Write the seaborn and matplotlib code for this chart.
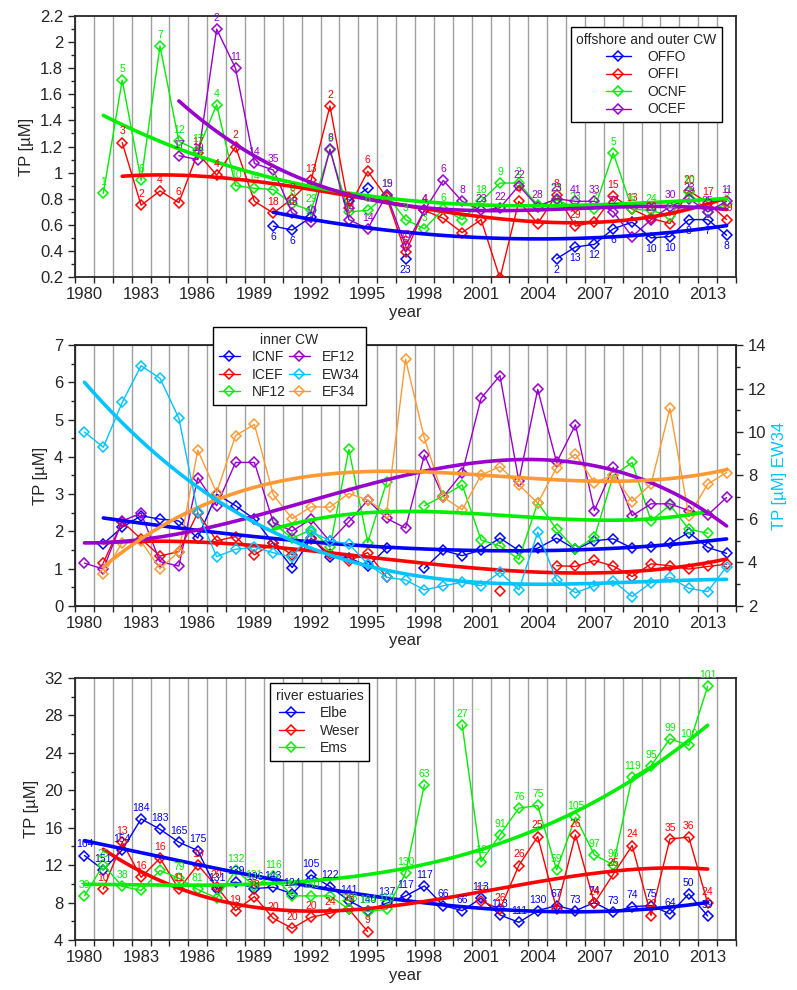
import numpy as np
import pandas as pd
import seaborn as sns
import matplotlib.pyplot as plt
from matplotlib.lines import Line2D
from matplotlib.ticker import MultipleLocator, FormatStrFormatter

sns.set_style("ticks")
plt.rcParams['font.family'] = ['Liberation Sans', 'DejaVu Sans']

nan = np.nan

# === Top panel: offshore and outer CW, 1980-2014 ===
years_a = list(range(1980, 2015))
offo = [nan] * 10 + [0.59, 0.56, 0.66, nan, 0.78, 0.88, nan, 0.34] + [nan] * 7 + \
       [0.34, 0.43, 0.45, 0.57, 0.62, 0.50, 0.51, 0.64, 0.64, 0.52]
offi = [nan, nan, 1.23, 0.75, 0.86, 0.77, 1.15, 0.98, 1.20, 0.78,
        0.69, 0.80, 0.94, 1.51, 0.73, 1.01, 0.81, 0.39, 0.71, 0.65,
        0.54, 0.64, 0.19, 0.78, 0.61, 0.83, 0.59, 0.62, 0.82, 0.72,
        0.65, 0.61, 0.86, 0.77, 0.64]
ocnf = [nan, 0.84, 1.71, 0.94, 1.97, 1.24, 1.17, 1.52, 0.90, 0.88,
        0.87, 0.76, 0.71, 1.17, 0.70, 0.71, 0.83, 0.64, 0.57, 0.72,
        0.64, 0.78, 0.92, 0.92, 0.75, 0.79, 0.73, 0.72, 1.15, 0.72,
        0.71, 0.67, 0.85, 0.70, 0.76]
ocef = [nan] * 5 + [1.13, 1.10, 2.10, 1.80, 1.07,
                    1.02, 0.69, 0.62, 1.18, 0.64, 0.57, 0.83, 0.44, 0.71, 0.94,
                    0.78, 0.71, 0.73, 0.90, 0.74, 0.80, 0.78, 0.78, 0.70, 0.51,
                    0.64, 0.74, 0.80, 0.70, 0.78]

n_offo = [''] * 10 + ['6', '6', '', '', '', '', '', '23'] + [''] * 7 + \
         ['2', '13', '12', '6', '', '10', '10', '8', '7', '8']
n_offi = ['', '', '3', '2', '4', '6', '17', '4', '2', '',
          '18', '8', '13', '2', '2', '6', '', '5', '4', '',
          '', '', '2', '4', '', '8', '29', '', '15', '13',
          '26', '', '20', '17', '19']
n_ocnf = ['', '1', '5', '6', '7', '12', '17', '4', '10', '14',
          '2', '8', '29', '9', '', '6', '15', '3', '3', '6',
          '', '18', '9', '2', '', '23', '23', '7', '5', '6',
          '24', '12', '10', '', '9']
n_ocef = [''] * 5 + ['17', '19', '2', '11', '14',
                     '35', '15', '10', '8', '14', '14', '19', '10', '4', '6',
                     '8', '23', '22', '22', '28', '23', '41', '33', '22', '',
                     '26', '30', '23', '25', '11']

# === Middle panel: inner CW, 1980-2014 (EW34 on right axis) ===
icnf = [nan, 1.67, 2.11, 2.42, 2.33, 2.28, 1.82, 3.00, 2.69, 2.33,
        1.68, 1.03, 1.82, 1.32, 1.30, 1.06, 1.55, nan, 1.01, 1.49,
        1.35, 1.50, 1.82, 1.49, 1.55, 1.82, 1.52, 1.75, 1.80, 1.55,
        1.59, 1.68, 1.97, 1.57, 1.41]
icef = [nan, 1.16, 2.26, 1.80, 1.34, 1.46, 2.50, 1.75, 1.86, 1.37,
        1.70, 1.37, 1.80, 1.40, 1.21, 1.43, 0.77, nan, nan, nan,
        nan, nan, 0.41, nan, nan, 1.08, 1.06, 1.22, 1.07, 0.79,
        1.13, 1.08, 0.99, 1.06, 1.12]
nf12 = [nan] * 10 + [2.22, 1.82, 2.04, 1.58, 4.20, 1.70, 3.32, nan, 2.69, 2.95,
                     3.25, 1.77, 1.61, 1.25, 2.77, 2.06, 1.52, 1.84, 3.50, 3.85,
                     2.28, 2.71, 2.06, 1.95, nan]
ef12 = [1.15, 0.99, 2.28, 2.49, 1.19, 1.07, 3.44, 2.69, 3.85, 3.85,
        2.24, 2.01, 2.33, 1.73, 2.26, 2.84, 2.35, 2.09, 4.05, 2.93,
        3.56, 5.57, 6.18, 3.35, 5.81, 3.85, 4.86, 2.56, 3.72, 2.42,
        2.74, 2.74, 2.56, 2.44, 2.91]
ew34 = [10.0, 9.30, 11.36, 13.05, 12.47, 10.63, 6.31, 4.27, 4.61, 4.70,
        4.45, 4.24, 5.42, 5.00, 4.85, 3.93, 3.32, 3.20, 2.74, 2.93,
        3.09, 2.93, 3.55, 2.74, 5.39, 3.20, 2.61, 2.93, 3.16, 2.43,
        3.07, 3.32, 2.81, 2.66, 3.81]
ef34 = [nan, 0.85, 1.70, 1.73, 1.00, 1.46, 4.18, 3.04, 4.57, 4.87,
        2.98, 2.34, 2.66, 2.65, 3.02, 2.84, 2.49, 6.62, 4.50, 2.92,
        2.58, 3.51, 3.74, 3.25, 2.76, 3.71, 4.07, 3.31, 3.51, 2.80,
        3.27, 5.30, 2.42, 3.27, 3.58]

# === Bottom panel: river estuaries, 1980-2013 ===
years_c = list(range(1980, 2014))
elbe = [13.03, 11.5, 13.63, 16.95, 15.84, 14.45, 13.56, 9.43, 10.2, 9.5,
        9.64, 8.95, 10.96, 9.71, 8.21, 7.14, 7.93, 8.71, 9.78, 7.68,
        7.14, 8.46, 6.68, 5.89, 7.14, 7.68, 7.14, 8.0, 6.96, 7.57,
        7.68, 6.79, 8.93, 6.57]
weser = [nan, 9.45, 14.45, 10.7, 12.74, 9.45, 12.03, 9.71, 7.14, 8.64,
         6.32, 5.25, 6.43, 6.86, 7.29, 4.90, nan, nan, nan, nan,
         nan, 8.18, 7.29, 11.96, 15.06, 7.29, 15.24, 7.93, 11.03, 14.1,
         6.61, 14.81, 14.99, 7.93]
ems = [8.71, 12.03, 9.73, 9.30, 11.44, 10.6, 9.4, 8.49, 11.44, 9.8,
       10.87, 8.72, 8.71, 8.71, 7.29, 7.04, 7.29, 11.14, 20.59, nan,
       27.0, 12.39, 15.24, 18.09, 18.38, 11.5, 17.13, 13.10, 12.03, 21.41,
       22.62, 25.51, 24.8, 31.11]

n_elbe = ['164', '151', '154', '184', '183', '165', '175', '131', '139', '136',
          '143', '124', '105', '122', '141', '140', '137', '117', '117', '66',
          '66', '113', '113', '111', '130', '67', '73', '74', '73', '74',
          '75', '64', '50', '59']
n_weser = ['', '10', '13', '16', '16', '11', '19', '20', '19', '18',
           '20', '20', '20', '24', '18', '9', '', '', '', '',
           '', '17', '26', '26', '25', '', '26', '24', '25', '24',
           '22', '35', '36', '24']
n_ems = ['39', '25', '38', '', '', '79', '81', '', '132', '131',
         '116', '14', '150', '', '138', '164', '119', '130', '63', '',
         '27', '12', '91', '76', '75', '59', '105', '97', '96', '119',
         '95', '99', '100', '101']

BLUE, RED, GREEN = '#0000ff', '#ff0000', '#00ee00'
PURPLE, CYAN, ORANGE = '#9900cc', '#00c4ff', '#ff9933'


def draw_series(ax, years, vals, color, labels=None, below=False):
    df = pd.DataFrame({"year": years, "tp": vals})
    df["seg"] = df["tp"].isna().cumsum()
    df = df.dropna()
    sns.lineplot(data=df, x="year", y="tp", units="seg", estimator=None,
                 color=color, lw=1, marker="D", markersize=5.5,
                 markerfacecolor="none", markeredgecolor=color,
                 markeredgewidth=1.1, legend=False, ax=ax, zorder=3)
    if labels:
        for x, v, t in zip(years, vals, labels):
            if t and not np.isnan(v):
                ax.annotate(t, (x, v), xytext=(0, -8 if below else 8),
                            textcoords="offset points", ha="center", va="center",
                            fontsize=7.5, color=color, zorder=5)


def draw_trend(ax, years, vals, color, deg=3):
    x = np.array(years, float)
    y = np.array(vals, float)
    m = ~np.isnan(y)
    coef = np.polyfit(x[m] - 1997, y[m], deg)
    xs = np.linspace(x[m].min(), x[m].max(), 150)
    sns.lineplot(x=xs, y=np.polyval(coef, xs - 1997), color=color, lw=2.6,
                 ax=ax, zorder=4)


def setup_axes(ax, ylim, major, minor):
    ax.set_xlim(1979.5, 2014.5)
    ax.set_ylim(*ylim)
    ax.set_xticks(range(1980, 2014, 3))
    ax.set_xticks(np.arange(1979.5, 2015, 1), minor=True)
    ax.tick_params(axis='x', which='major', length=0, labelsize=12, pad=7)
    ax.tick_params(axis='x', which='minor', length=4, width=1)
    ax.grid(True, axis='x', which='minor', color='#a0a0a0', lw=1)
    ax.set_axisbelow(True)
    ax.yaxis.set_major_locator(MultipleLocator(major))
    ax.yaxis.set_minor_locator(MultipleLocator(minor))
    ax.yaxis.set_major_formatter(FormatStrFormatter('%g'))
    ax.tick_params(axis='y', which='major', length=5, width=1, labelsize=12)
    ax.tick_params(axis='y', which='minor', length=3, width=1)
    for s in ax.spines.values():
        s.set_linewidth(1.3)
    ax.set_xlabel('year', fontsize=12, labelpad=2)
    ax.set_ylabel('TP [µM]', fontsize=12)


def handle(c):
    return Line2D([], [], color=c, lw=1, marker='D', markersize=5.5,
                  markerfacecolor='none', markeredgecolor=c, markeredgewidth=1.1)


leg_kw = dict(fontsize=10, title_fontsize=10, frameon=True, fancybox=False,
              edgecolor='black', framealpha=1, borderaxespad=0,
              labelspacing=0.25, borderpad=0.4)

fig = plt.figure(figsize=(7.97, 9.90), dpi=100)

# --- top ---
ax1 = fig.add_axes([0.0941, 0.7202, 0.8294, 0.2636])
setup_axes(ax1, (0.2, 2.2), 0.2, 0.1)
for vals, c, lab, below in [(offo, BLUE, n_offo, True), (offi, RED, n_offi, False),
                            (ocnf, GREEN, n_ocnf, False), (ocef, PURPLE, n_ocef, False)]:
    draw_series(ax1, years_a, vals, c, lab, below)
draw_trend(ax1, years_a, offo, BLUE, 2)
draw_trend(ax1, years_a, offi, RED, 3)
draw_trend(ax1, years_a, ocnf, GREEN, 3)
draw_trend(ax1, years_a, ocef, PURPLE, 3)
lg = ax1.legend([handle(c) for c in (BLUE, RED, GREEN, PURPLE)],
                ['OFFO', 'OFFI', 'OCNF', 'OCEF'], title='offshore and outer CW',
                loc='upper left', bbox_to_anchor=(0.75, 0.958),
                handlelength=1.8, handletextpad=1.2, **leg_kw)
lg.get_frame().set_linewidth(1)

# --- middle ---
ax2 = fig.add_axes([0.0941, 0.3879, 0.8294, 0.2636])
setup_axes(ax2, (0, 7), 1, 0.5)
for vals, c in [(icnf, BLUE), (icef, RED), (nf12, GREEN), (ef12, PURPLE), (ef34, ORANGE)]:
    draw_series(ax2, years_a, vals, c)
    draw_trend(ax2, years_a, vals, c, 3)
ax2r = ax2.twinx()
ax2r.set_ylim(2, 14)
ax2r.yaxis.set_major_locator(MultipleLocator(2))
ax2r.yaxis.set_minor_locator(MultipleLocator(1))
ax2r.tick_params(axis='y', which='major', length=5, width=1, labelsize=12)
ax2r.tick_params(axis='y', which='minor', length=3, width=1)
draw_series(ax2r, years_a, ew34, CYAN)
draw_trend(ax2r, years_a, ew34, CYAN, 3)
ax2r.set_ylabel('TP [µM] EW34', fontsize=12, color=CYAN)
ax2r.set_xlim(1979.5, 2014.5)
lg = ax2r.legend([handle(c) for c in (BLUE, RED, GREEN, PURPLE, CYAN, ORANGE)],
                 ['ICNF', 'ICEF', 'NF12', 'EF12', 'EW34', 'EF34'], title='inner CW',
                 ncol=2, columnspacing=0.2, loc='upper left',
                 bbox_to_anchor=(0.209, 1.069),
                 handlelength=1.5, handletextpad=0.9, **leg_kw)
lg.get_frame().set_linewidth(1)

# --- bottom ---
ax3 = fig.add_axes([0.0941, 0.0505, 0.8294, 0.2646])
setup_axes(ax3, (4, 32), 4, 2)
for vals, c, lab in [(elbe, BLUE, n_elbe), (weser, RED, n_weser), (ems, GREEN, n_ems)]:
    draw_series(ax3, years_c, vals, c, lab)
draw_trend(ax3, years_c, elbe, BLUE, 3)
draw_trend(ax3, years_c, weser, RED, 3)
draw_trend(ax3, years_c, ems, GREEN, 3)
lg = ax3.legend([handle(c) for c in (BLUE, RED, GREEN)], ['Elbe', 'Weser', 'Ems'],
                title='river estuaries', loc='upper left',
                bbox_to_anchor=(0.295, 0.981),
                handlelength=1.8, handletextpad=1.2, **leg_kw)
lg.get_frame().set_linewidth(1)

fig.savefig('out.png', dpi=100)
